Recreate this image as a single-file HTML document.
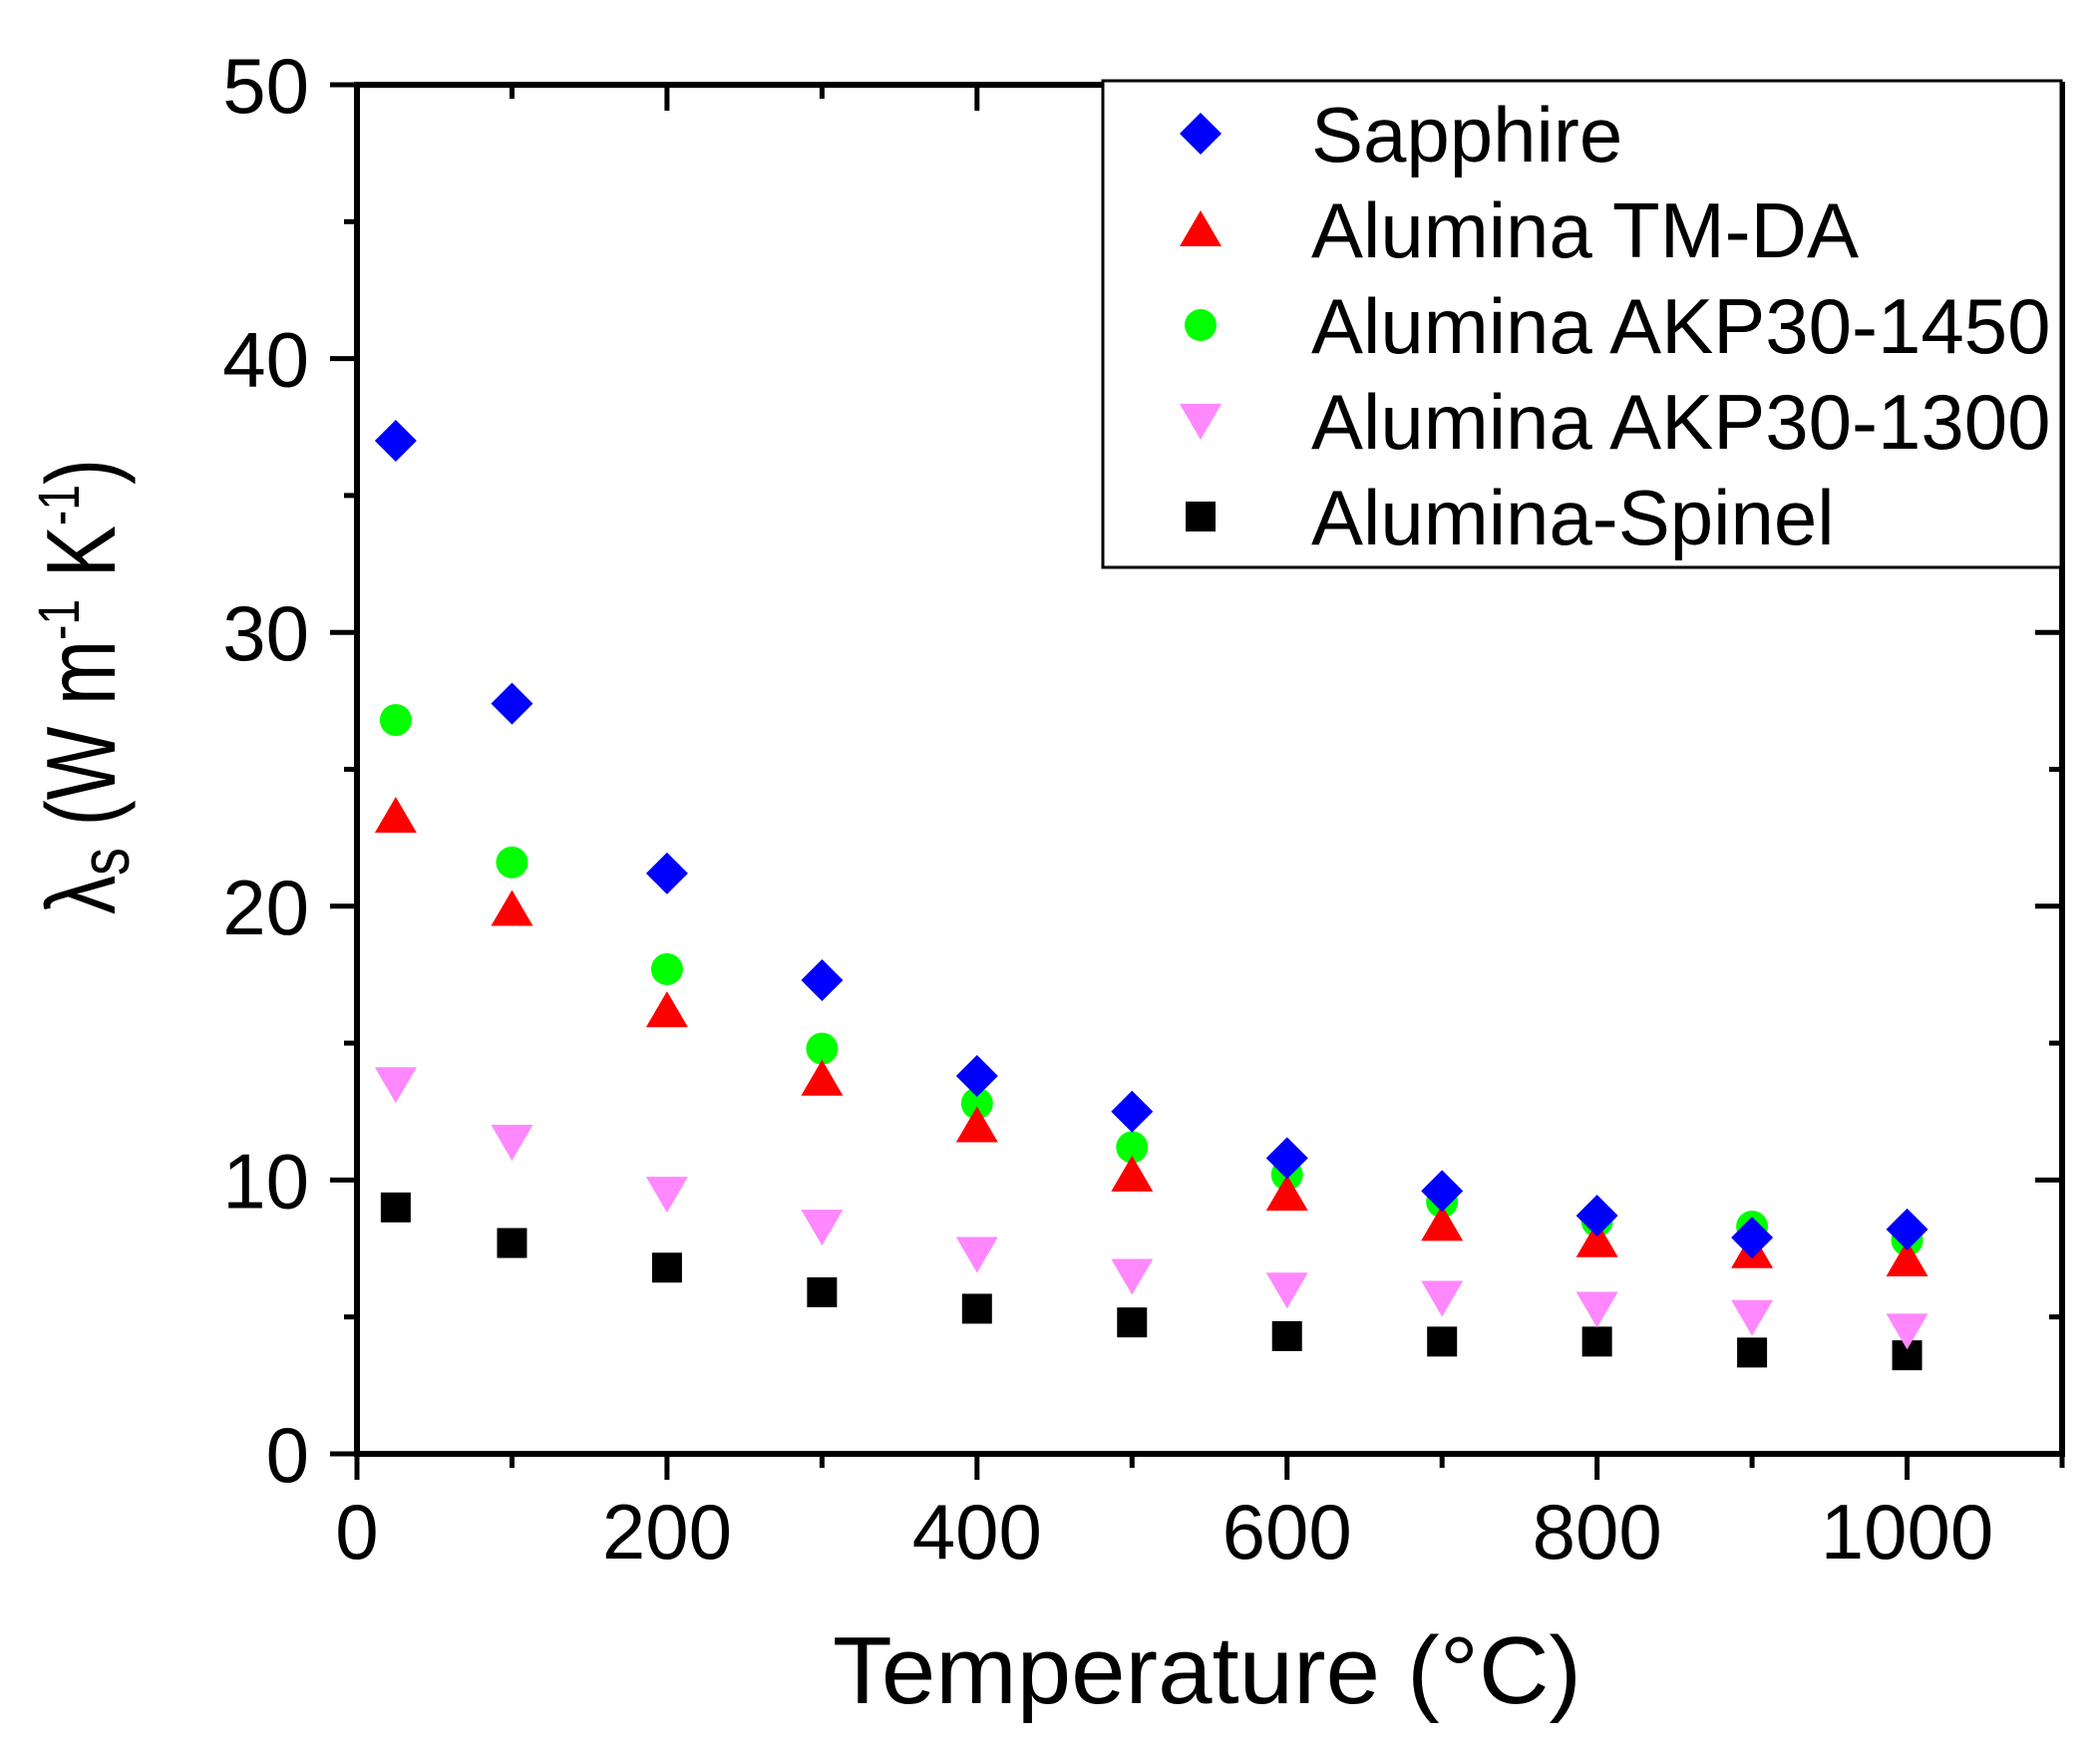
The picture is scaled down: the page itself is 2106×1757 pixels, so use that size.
<!DOCTYPE html>
<html><head><meta charset="utf-8"><style>html,body{margin:0;padding:0;background:#fff}svg{display:block}</style></head>
<body>
<svg id="chart" width="2106" height="1757" viewBox="0 0 2106 1757" xmlns="http://www.w3.org/2000/svg" font-family="Liberation Sans, Arial, sans-serif">
<rect width="2106" height="1757" fill="#fff"/>
<g id="axes"></g>
<g id="marks"></g>
<text x="835" y="1708" font-size="96" textLength="751" lengthAdjust="spacingAndGlyphs">Temperature (°C)</text>
<text transform="translate(115,917) rotate(-90)" font-size="98" textLength="457" lengthAdjust="spacingAndGlyphs">λ<tspan font-size="70" dy="14">s</tspan><tspan dy="-14"> (W m</tspan><tspan font-size="58" dy="-36">-1</tspan><tspan dy="36"> K</tspan><tspan font-size="58" dy="-36">-1</tspan><tspan dy="36">)</tspan></text>
<g id="legend"></g>
</svg>
<script>
const temps = [25,100,200,300,400,500,600,700,800,900,1000];
const sapphire = [37,27.4,21.2,17.3,13.8,12.5,10.8,9.6,8.7,7.9,8.2];
const tmda = [23.3,19.9,16.2,13.7,12.0,10.2,9.5,8.4,7.8,7.4,7.1];
const akp1450 = [26.8,21.6,17.7,14.8,12.8,11.2,10.2,9.2,8.5,8.3,7.8];
const akp1300 = [13.5,11.4,9.5,8.3,7.3,6.5,6.0,5.7,5.3,5.0,4.5];
const spinel = [9.0,7.7,6.8,5.9,5.3,4.8,4.3,4.1,4.1,3.7,3.6];
const xTicks = [0,200,400,600,800,1000];
const yTicks = [0,10,20,30,40,50];
const seriesNames = ["Sapphire","Alumina TM-DA","Alumina AKP30-1450","Alumina AKP30-1300","Alumina-Spinel"];

const NS="http://www.w3.org/2000/svg";
const L=358,R=2068,T=85,B=1458;
const xs=v=>L+(v-0)/(1100-0)*(R-L);
const ys=v=>B-(v-0)/(50-0)*(B-T);
function el(tag,attrs,parent){const e=document.createElementNS(NS,tag);for(const k in attrs)e.setAttribute(k,attrs[k]);parent.appendChild(e);return e;}
const axes=document.getElementById('axes');
const frame=el('rect',{x:L,y:T,width:R-L,height:B-T,fill:'none',stroke:'#000','stroke-width':6},axes);


for(let v=0;v<=1100;v+=100){
  const major=v%200===0;const x=xs(v);
  const t=el('line',{x1:x,y1:B,x2:x,y2:B+(major?26:14),stroke:'#000','stroke-width':5},axes);
  
  
  const t2=el('line',{x1:x,y1:T,x2:x,y2:T+(major?26:14),stroke:'#000','stroke-width':5},axes);
  
  
}
for(const v of xTicks){
  const tx=el('text',{x:xs(v),y:1563,'font-size':78,'text-anchor':'middle'},axes);tx.textContent=v;
  
  
}
for(let v=0;v<=50;v+=5){
  const major=v%10===0;const y=ys(v);
  const t=el('line',{x1:L,y1:y,x2:L-(major?27:13),y2:y,stroke:'#000','stroke-width':5},axes);
  
  
  const t2=el('line',{x1:R,y1:y,x2:R-(major?27:13),y2:y,stroke:'#000','stroke-width':5},axes);
  
  
}
for(const v of yTicks){
  const tx=el('text',{x:310,y:ys(v)+28,'font-size':78,'text-anchor':'end'},axes);tx.textContent=v;
  
  
}
function marker(kind,cx,cy,parent){
  let m;
  if(kind==='diamond') m=el('polygon',{points:`${cx},${cy-21} ${cx+21},${cy} ${cx},${cy+21} ${cx-21},${cy}`,fill:'#0000ff'},parent);
  else if(kind==='up') m=el('polygon',{points:`${cx},${cy-19} ${cx+21},${cy+17} ${cx-21},${cy+17}`,fill:'#ff0000'},parent);
  else if(kind==='circle') m=el('circle',{cx:cx,cy:cy,r:16,fill:'#00ff00'},parent);
  else if(kind==='down') m=el('polygon',{points:`${cx-21},${cy-17} ${cx+21},${cy-17} ${cx},${cy+19}`,fill:'#ff88ff'},parent);
  else m=el('rect',{x:cx-15,y:cy-15,width:30,height:30,fill:'#000'},parent);
  return m;
}
const marks=document.getElementById('marks');
const series=[[spinel,'square','spinel'],[akp1300,'down','akp1300'],[akp1450,'circle','akp1450'],[tmda,'up','tmda'],[sapphire,'diamond','sapphire']];
for(const [vals,kind,nm] of series){
  vals.forEach((v,i)=>{
    const m=marker(kind,xs(temps[i]),ys(v),marks);
    
    
  });
}
const leg=document.getElementById('legend');
const box=el('rect',{x:1106,y:81,width:961,height:488,fill:'#fff',stroke:'#000','stroke-width':3},leg);


const kinds=['diamond','up','circle','down','square'];
seriesNames.forEach((n,i)=>{
  const cy=134+i*96;
  const m=marker(kinds[i],1204,cy,leg);
  
  
  const tx=el('text',{x:1315,y:cy+28,'font-size':78},leg);tx.textContent=n;
  
  
});
</script>
</body></html>
